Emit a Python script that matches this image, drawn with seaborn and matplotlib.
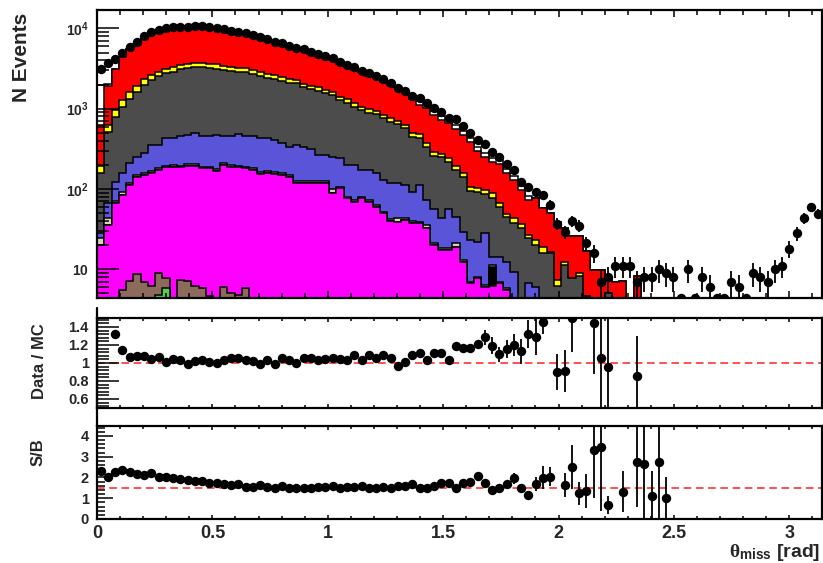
import numpy as np
import matplotlib
matplotlib.use("Agg")
import matplotlib.pyplot as plt
import seaborn as sns
from matplotlib.lines import Line2D
from matplotlib.ticker import FixedLocator, MultipleLocator, FixedFormatter, NullFormatter, LogLocator

sns.set_style("white")
plt.rcParams["font.family"] = ["Liberation Sans", "DejaVu Sans"]
plt.rcParams["font.weight"] = "bold"
plt.rcParams["mathtext.fontset"] = "custom"
plt.rcParams["mathtext.rm"] = "Liberation Sans:bold"
plt.rcParams["mathtext.bf"] = "Liberation Sans:bold"
plt.rcParams["mathtext.it"] = "Liberation Serif"

# ---------------- data (100 bins over 0..pi) ----------------
n_bins = 100
x_min, x_max = 0.0, np.pi

data = [3097, 3673, 4159, 4980, 5916, 6826, 8037, 8940, 9550, 10020,
        10320, 10500, 10500, 10620, 10720, 10500, 10020, 9840, 9360, 9090,
        8690, 8270, 7880, 7380, 6830, 6520, 6040, 5750, 5490, 5130,
        4760, 4500, 4220, 3785, 3500, 3280, 2947, 2760, 2555, 2323,
        2071, 1794, 1660, 1452, 1371, 1188, 1029, 902, 759, 738,
        609, 503, 408, 360, 287, 253, 203, 173, 123, 107,
        91, 83, 64, 37, 29, 40, 35, 21, 16, 7,
        8, 11, 11, 11, 7, 8, 8, 10, 9, 8,
        4.4, 10, 4.4, 8, 6, 4.4, 4.4, 7, 6, 4.4,
        9, 8, 7, 10, 11, 18, 28, 43, 59, 49]

# cumulative stack levels (top of each component)
cum_white = [1972, 2032, 3146, 4342, 5550, 6338, 7462, 8530, 8959, 9911,
             9847, 10125, 10649, 10391, 10337, 10386, 9980, 9489, 8839, 8584,
             8437, 8116, 7936, 7165, 6878, 6157, 5864, 5727, 5184, 4844,
             4590, 4323, 3985, 3636, 3398, 3004, 2861, 2527, 2413, 2143,
             1956, 1855, 1642, 1339, 1231, 1153, 924, 810, 737, 622,
             521, 430, 336, 280, 240, 231, 175, 144, 109, 81,
             77, 57.5, 50, 39, 32.4, 26.2, 26.2, 16.9, 9.8, 9.8,
             7.7, 7.0, 7.2, 0, 8.2] + [0] * 25
cum_red = [627, 1918, 3146, 4342, 5550, 6338, 7462, 8530, 8959, 9911,
           9847, 10125, 10649, 10391, 10337, 10386, 9980, 9489, 8839, 8584,
           8437, 8116, 7936, 7165, 6878, 6157, 5864, 5727, 5184, 4844,
           4590, 4323, 3985, 3636, 3398, 3004, 2861, 2527, 2413, 2143,
           1956, 1855, 1642, 1339, 1099, 1029, 825, 723, 658, 555,
           465, 384, 300, 250, 214, 206, 156, 129, 97, 72,
           77, 57.5, 50, 39, 32.4, 26.2, 26.2, 16.9, 9.8, 9.8,
           7.7, 7.0, 7.2, 0, 8.2] + [0] * 25
cum_yellow = [193, 627, 964, 1284, 1628, 1918, 2324, 2628, 2889, 3095,
              3279, 3502, 3603, 3676, 3676, 3573, 3603, 3402, 3335, 3186,
              3186, 3034, 2889, 2682, 2628, 2503, 2324, 2278, 2031, 1918,
              1847, 1710, 1628, 1411, 1310, 1168, 1059, 983, 936, 835,
              760, 703, 627, 494, 480, 371, 291, 273, 245, 193,
              157, 107, 104, 97, 88, 66, 49, 44, 37, 26.7,
              23.2, 18.8, 16.5, 7.4, 12.4, 7.9, 9.1, 4.6, 0, 0,
              5.0, 0, 0, 0, 0] + [0] * 25
cum_gray = [157, 517, 782, 1041, 1321, 1628, 1974, 2278, 2554, 2760,
            2889, 3095, 3186, 3279, 3279, 3186, 3150, 3034, 2974, 2840,
            2840, 2705, 2576, 2391, 2344, 2232, 2108, 2072, 1847, 1745,
            1676, 1555, 1481, 1284, 1188, 1059, 964, 892, 852, 760,
            689, 639, 570, 440, 428, 336, 260, 248, 219, 172,
            142, 95, 92.5, 86.7, 76.6, 60.2, 44.4, 38, 32.4, 24.3,
            20.1, 16.1, 16, 6.2, 11.3, 7.9, 8.3, 4.6, 0, 0,
            5.0, 0, 0, 0, 0] + [0] * 25
cum_blue = [28.6, 67.5, 123, 157, 209, 253, 278, 353, 353, 428,
            428, 457, 471, 494, 457, 457, 471, 457, 457, 484,
            457, 457, 428, 428, 408, 371, 336, 353, 336, 312,
            265, 265, 253, 241, 199, 199, 172, 172, 157, 129,
            120, 120, 112, 92.5, 112, 73, 56.4, 43.2, 55.9, 45.2,
            29.4, 23.2, 22.1, 28.1, 14.4, 14.4, 12.4, 9.3, 0, 6.8,
            6.1] + [0] * 39
cum_beige = [24.5, 43.2, 71.5, 92.5, 119, 149, 156, 168, 181, 195,
             200, 195, 203, 203, 190, 190, 177, 209, 200, 195,
             190, 181, 162, 168, 162, 156, 149, 126, 124, 126,
             126, 124, 99, 107, 80, 73, 80, 73, 63, 52,
             42, 43, 43, 40, 39, 35.6, 21, 18.3, 18.3, 21,
             13, 7.0, 8.1, 6.4, 11.3, 7.0, 5.8] + [0] * 43
black_level = [0] * 54 + [10.8] + [0] * 45
cum_magenta = [20.1, 35.6, 66.4, 84.2, 112, 142, 149, 160, 172, 186,
               190, 186, 193, 193, 181, 181, 169, 199, 190, 186,
               181, 172, 154, 160, 154, 149, 142, 120, 118, 120,
               120, 118, 90, 102, 76.6, 69.5, 76.6, 69.5, 60.2, 49.8,
               40.3, 39.2, 41.1, 38.1, 37.4, 32.4, 20.1, 17.4, 17.4, 19.1,
               12.4, 6.7, 7.7, 6.1, 6.2, 6.7, 5.5] + [0] * 43
cum_brown = [0, 0, 0, 5.5, 7.2, 8.7, 7.0, 6.2, 9.1, 7.7,
             0, 7.4, 7.2, 6.2, 5.8, 4.6, 0, 6.1, 5.0, 4.8,
             5.9] + [0] * 79
cum_green = [0] * 8 + [4.8, 5.8] + [0] * 90

ratio = [np.nan, np.nan, 1.322, 1.147, 1.066, 1.077, 1.077, 1.048, 1.066, 1.011,
         1.048, 1.037, 0.986, 1.022, 1.037, 1.011, 1.004, 1.037, 1.059, 1.059,
         1.030, 1.019, 0.993, 1.030, 0.993, 1.059, 1.030, 1.004, 1.059, 1.059,
         1.037, 1.041, 1.059, 1.041, 1.030, 1.092, 1.030, 1.092, 1.059, 1.084,
         1.059, 0.967, 1.011, 1.084, 1.114, 1.030, 1.114, 1.114, 1.030, 1.186,
         1.169, 1.169, 1.213, 1.285, 1.194, 1.095, 1.158, 1.202, 1.132, 1.322,
         1.285, 1.46, np.nan, 0.895, 0.912, 1.497, np.nan, np.nan, 1.443, 1.059,
         0.956, np.nan, np.nan, np.nan, 0.854] + [np.nan] * 25
ratio_err = [0.01] * 45 + [0.02, 0.02, 0.02, 0.025, 0.03,
             0.03, 0.035, 0.045, 0.086, 0.095, 0.08, 0.1, 0.12, 0.14, 0.155,
             0.2, 0.14, 0, 0.2, 0.23, 0.38, 0, 0, 0.56, 0.6,
             0.55, 0, 0, 0, 0.45] + [0] * 25

sb = [2.3, 2.04, 2.25, 2.36, 2.28, 2.15, 2.12, 2.20, 2.04, 2.03,
      1.96, 1.93, 1.88, 1.85, 1.85, 1.72, 1.75, 1.67, 1.64, 1.69,
      1.53, 1.53, 1.64, 1.56, 1.49, 1.58, 1.49, 1.48, 1.48, 1.49,
      1.53, 1.56, 1.59, 1.49, 1.56, 1.53, 1.59, 1.49, 1.49, 1.56,
      1.49, 1.59, 1.59, 1.67, 1.49, 1.49, 1.59, 1.75, 1.72, 1.49,
      1.72, 1.80, 2.07, 1.75, 1.40, 1.49, 1.69, 1.96, 1.49, 1.16,
      1.69, 1.99, 2.04, np.nan, 1.64, 2.52, 1.24, 1.35, 3.33, 3.48,
      0.67, np.nan, 1.32, np.nan, 2.76, 2.64, 1.11, 2.76, 1.0] + [np.nan] * 21
sb_err = [0.03] * 46 + [0.05, 0.06, 0.06, 0.07,
          0.08, 0.08, 0.2, 0.1, 0.12, 0.1, 0.15, 0.27, 0.15, 0.15,
          0.34, 0.56, 0.45, 0, 0.56, 1.06, 0.56, 0.84, 2.3, 3.1,
          0.44, 0, 1.0, 0, 2.2, 2.7, 1.2, 2.7, 1.0] + [0] * 21

ratio_ref = 1.0
sb_ref = 1.5

# ---------------- figure ----------------
W, H = 823, 563
fig = plt.figure(figsize=(W / 100, H / 100), dpi=100)


def rect(l, t, r, b):
    return [l / W, 1 - b / H, (r - l) / W, (b - t) / H]


ax1 = fig.add_axes(rect(97, 10, 822, 298))
ax2 = fig.add_axes(rect(97, 318, 822, 408))
ax3 = fig.add_axes(rect(97, 426, 822, 519))

edges = np.linspace(x_min, x_max, n_bins + 1)
centers = 0.5 * (edges[:-1] + edges[1:])

ax1.set_yscale("log")
layers = [
    (cum_white, "#ffffff"),
    (cum_red, "#ff0000"),
    (cum_yellow, "#ffff00"),
    (cum_gray, "#4c4c4c"),
    (cum_blue, "#5a55d8"),
    (cum_beige, "#d8d2b8"),
    (np.maximum(cum_magenta, black_level), "#000000"),
    (cum_magenta, "#ff00ff"),
    (cum_brown, "#8c6b5c"),
    (cum_green, "#4fd24f"),
]
for lvl, col in layers:
    vals = np.where(np.asarray(lvl, float) > 0, np.asarray(lvl, float), 1e-3)
    ax1.stairs(vals, edges, baseline=1e-3, fill=True, facecolor=col,
               edgecolor="black", linewidth=1.1, zorder=2)

data = np.asarray(data, float)
derr = np.where(data >= 5, np.sqrt(data), 0.0)
ax1.errorbar(centers, data, yerr=derr, fmt="none", ecolor="black", elinewidth=1.3, zorder=6)
sns.scatterplot(x=centers, y=data, color="black", s=46, linewidth=0, ax=ax1, zorder=7)
ax1.set_xlim(x_min, x_max)
ax1.set_ylim(4.39, 16950)

# ratio
ratio = np.asarray(ratio, float)
ax2.axhline(ratio_ref, color="#ff2020", ls=(0, (5, 3)), lw=1.1, zorder=2)
ax2.errorbar(centers, ratio, yerr=ratio_err, fmt="none", ecolor="black", elinewidth=1.3, zorder=5)
sns.scatterplot(x=centers, y=ratio, color="black", s=46, linewidth=0, ax=ax2, zorder=6)
ax2.set_xlim(x_min, x_max)
ax2.set_ylim(0.5, 1.5)

# S/B
sb = np.asarray(sb, float)
ax3.axhline(sb_ref, color="#ff2020", ls=(0, (5, 3)), lw=1.1, zorder=2)
ax3.errorbar(centers, sb, yerr=sb_err, fmt="none", ecolor="black", elinewidth=1.3, zorder=5)
sns.scatterplot(x=centers, y=sb, color="black", s=46, linewidth=0, ax=ax3, zorder=6)
ax3.set_xlim(x_min, x_max)
ax3.set_ylim(0, 4.48)

# ---------------- axes styling ----------------
for ax in (ax1, ax2, ax3):
    ax.set_xlabel("")
    ax.set_ylabel("")
    ax.xaxis.set_major_locator(MultipleLocator(0.5))
    ax.xaxis.set_minor_locator(MultipleLocator(0.1))
    for s in ax.spines.values():
        s.set_linewidth(1.6)
        s.set_color("black")
        s.set_zorder(10)
    ax.tick_params(which="both", direction="in", top=True, bottom=True, left=True, right=False,
                   width=1.1, color="black")
    ax.set_axisbelow(False)

ax1.tick_params(axis="x", which="major", length=5, labelbottom=False)
ax1.tick_params(axis="x", which="minor", length=3.5)
ax1.yaxis.set_major_locator(FixedLocator([10, 100, 1000, 10000]))
ax1.yaxis.set_major_formatter(FixedFormatter([r"$\mathbf{10}$", r"$\mathbf{10^{2}}$",
                                              r"$\mathbf{10^{3}}$", r"$\mathbf{10^{4}}$"]))
ax1.yaxis.set_minor_locator(LogLocator(base=10, subs=np.arange(2, 10), numticks=20))
ax1.yaxis.set_minor_formatter(NullFormatter())
ax1.tick_params(axis="y", which="major", length=16, labelsize=10, pad=6)
ax1.tick_params(axis="y", which="minor", length=8.5)

ax2.tick_params(axis="x", which="major", length=3.2, labelbottom=False)
ax2.tick_params(axis="x", which="minor", length=2.2)
ax2.yaxis.set_major_locator(FixedLocator([0.6, 0.8, 1.0, 1.2, 1.4]))
ax2.yaxis.set_major_formatter(FixedFormatter(["0.6", "0.8", "1", "1.2", "1.4"]))
ax2.yaxis.set_minor_locator(MultipleLocator(0.04))
ax2.tick_params(axis="y", which="major", length=16, labelsize=10.5, pad=6)
ax2.tick_params(axis="y", which="minor", length=8.5)

ax3.tick_params(axis="x", which="major", length=3.2, labelsize=13, pad=4)
ax3.tick_params(axis="x", which="minor", length=2.2)
ax3.xaxis.set_major_locator(FixedLocator([0, 0.5, 1, 1.5, 2, 2.5, 3]))
ax3.xaxis.set_major_formatter(FixedFormatter(["0", "0.5", "1", "1.5", "2", "2.5", "3"]))
ax3.yaxis.set_major_locator(FixedLocator([0, 1, 2, 3, 4]))
ax3.yaxis.set_major_formatter(FixedFormatter(["0", "1", "2", "3", "4"]))
ax3.yaxis.set_minor_locator(MultipleLocator(0.2))
ax3.tick_params(axis="y", which="major", length=11.5, labelsize=10.5, pad=6)
ax3.tick_params(axis="y", which="minor", length=5.8)

for ax in (ax1, ax2, ax3):
    for lab in ax.get_xticklabels() + ax.get_yticklabels():
        lab.set_fontweight("bold")

# connecting left axis line between pads
fig.add_artist(Line2D([97 / W, 97 / W], [1 - 426 / H, 1 - 308 / H], color="black", lw=1.6))

# titles
fig.text(22 / W, 1 - 13 / H, "N Events", rotation=90, ha="center", va="top",
         fontsize=15, fontweight="bold")
fig.text(40 / W, 1 - 361 / H, "Data / MC", rotation=90, ha="center", va="center",
         fontsize=12, fontweight="bold")
fig.text(38 / W, 1 - 452 / H, "S/B", rotation=90, ha="center", va="center",
         fontsize=12, fontweight="bold")
fig.text(820 / W, 1 - 563 / H, r"$\theta_{\mathbf{miss}}$ [rad]", ha="right", va="bottom",
         fontsize=14, fontweight="bold")

fig.savefig("out.png", dpi=100)
